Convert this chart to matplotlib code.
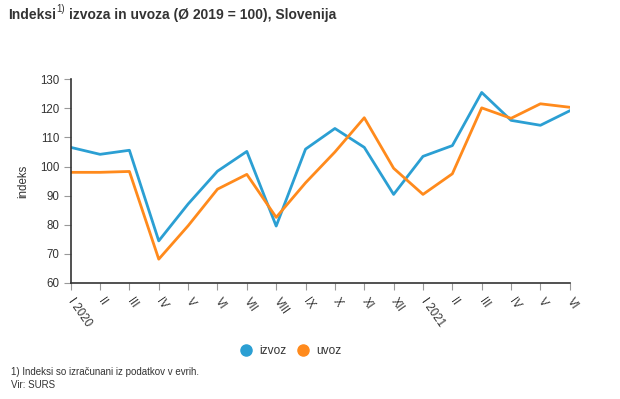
import matplotlib
matplotlib.use("Agg")
import matplotlib.pyplot as plt
from matplotlib.lines import Line2D

plt.rcParams["font.family"] = ["Liberation Sans", "DejaVu Sans"]

# data
months = ["I 2020", "II", "III", "IV", "V", "VI", "VII", "VIII", "IX", "X", "XI", "XII",
          "I 2021", "II", "III", "IV", "V", "VI"]
izvoz = [106.6, 104.2, 105.6, 74.4, 87.1, 98.4, 105.2, 79.5, 106.0, 113.1, 106.6, 90.4,
         103.5, 107.2, 125.5, 115.9, 114.2, 119.2]
uvoz = [98.0, 98.0, 98.3, 68.1, 79.6, 92.2, 97.3, 82.5, 94.4, 105.0, 116.8, 99.4,
        90.4, 97.5, 120.2, 116.6, 121.6, 120.4]
yticks = [60, 70, 80, 90, 100, 110, 120, 130]

blue = "#2b9fd3"
orange = "#ff8a1c"
txt = "#333333"

fig = plt.figure(figsize=(6.2, 3.99), dpi=100)
ax = fig.add_axes([0.114, 0.2915, 0.805, 0.5095])

x = list(range(len(months)))
ax.plot(x, izvoz, color=blue, lw=2)
ax.plot(x, uvoz, color=orange, lw=2)

ax.set_xlim(0, len(months) - 1)
ax.set_ylim(60, 130)
ax.set_yticks(yticks)
ax.set_xticks(x)
ax.set_xticklabels(months, rotation=-55, ha="left", va="center",
                   rotation_mode="anchor", fontsize=8.3, color=txt)
ax.tick_params(axis="x", length=5, color="#999999", pad=7)
ax.tick_params(axis="y", length=5, color="#999999", labelsize=8.3, labelcolor=txt, pad=3)
for s in ["top", "right"]:
    ax.spines[s].set_visible(False)
for s in ["left", "bottom"]:
    ax.spines[s].set_color("#333333")
    ax.spines[s].set_linewidth(1.2)
ax.set_ylabel("indeks", fontsize=8.3, color=txt, labelpad=8)

# title with superscript
fig.canvas.draw()
r = fig.canvas.get_renderer()
t1 = fig.text(0.013, 0.962, "Indeksi", fontsize=10, fontweight="bold", color=txt, va="center")
bb = t1.get_window_extent(r)
x1 = bb.x1 / fig.bbox.width
t2 = fig.text(x1 + 0.001, 0.977, "1)", fontsize=7, color=txt, va="center")
bb2 = t2.get_window_extent(r)
x2 = bb2.x1 / fig.bbox.width
fig.text(x2 + 0.006, 0.962, "izvoza in uvoza (Ø 2019 = 100), Slovenija", fontsize=10,
         fontweight="bold", color=txt, va="center")

handles = [Line2D([], [], marker="o", ls="", color=blue, markersize=8),
           Line2D([], [], marker="o", ls="", color=orange, markersize=8)]
fig.legend(handles, ["izvoz", "uvoz"], loc="center", bbox_to_anchor=(0.464, 0.12),
           ncol=2, frameon=False, fontsize=8.6, handletextpad=0.1, columnspacing=0.4,
           labelcolor=txt)

fig.text(0.018, 0.068, "1) Indeksi so izračunani iz podatkov v evrih.", fontsize=7, color=txt, va="center")
fig.text(0.018, 0.035, "Vir: SURS", fontsize=7, color=txt, va="center")

fig.savefig("out.png", dpi=100)
